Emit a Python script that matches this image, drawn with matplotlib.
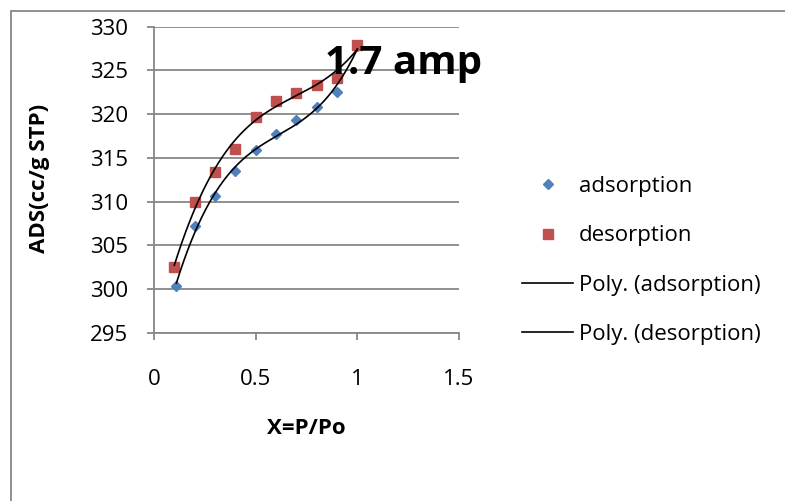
import numpy as np
import matplotlib
import matplotlib.pyplot as plt
from matplotlib.patches import Rectangle

matplotlib.use("Agg")

# Data
ADS_X = [0.11, 0.2, 0.3, 0.4, 0.5, 0.6, 0.7, 0.8, 0.9, 1.0]
ADS_Y = [300.4, 307.2, 310.7, 313.5, 315.9, 317.7, 319.3, 320.8, 322.5, 327.8]
DES_X = [0.1, 0.2, 0.3, 0.4, 0.5, 0.6, 0.7, 0.8, 0.9, 1.0]
DES_Y = [302.5, 310.0, 313.4, 316.0, 319.7, 321.5, 322.4, 323.3, 324.1, 327.9]
X_TICKS = [0, 0.5, 1, 1.5]
Y_TICKS = [295, 300, 305, 310, 315, 320, 325, 330]
POLY_ORDER = 3

# Styling (Excel 2007 look)
BLUE = "#4F81BD"
RED = "#C0504D"
GRID = "#878787"
FONT = "Open Sans"

plt.rcParams["font.family"] = [FONT, "DejaVu Sans"]

fig = plt.figure(figsize=(7.85, 5.01), dpi=100)
ax = fig.add_axes([154 / 785, 1 - 333 / 501, 305 / 785, 306.5 / 501])

# outer chart frame (only top/left edges visible)
fig.patches.append(Rectangle((11 / 785, -0.5), 2.0, 1.5 - 10.5 / 501,
                             transform=fig.transFigure, fill=False,
                             edgecolor=GRID, linewidth=1.3))

ax.plot(ADS_X, ADS_Y, linestyle="none", marker="D", markersize=5.5,
        color=BLUE, label="adsorption", zorder=3)
ax.plot(DES_X, DES_Y, linestyle="none", marker="s", markersize=6.5,
        color=RED, label="desorption", zorder=4)

# polynomial trend lines
for xs, ys, name in [(ADS_X, ADS_Y, "adsorption"), (DES_X, DES_Y, "desorption")]:
    coef = np.polyfit(xs, ys, POLY_ORDER)
    xx = np.linspace(min(xs), max(xs), 200)
    ax.plot(xx, np.polyval(coef, xx), color="black", linewidth=1.2,
            label=f"Poly. ({name})", zorder=5)

ax.set_xlim(0, 1.5)
ax.set_ylim(295, 330)
ax.set_xticks(X_TICKS)
ax.set_xticklabels([f"{t:g}" for t in X_TICKS])
ax.set_yticks(Y_TICKS)
ax.yaxis.grid(True, color=GRID, linewidth=1.3)
ax.set_axisbelow(True)
for s in ["top", "right"]:
    ax.spines[s].set_visible(False)
for s in ["left", "bottom"]:
    ax.spines[s].set_color(GRID)
    ax.spines[s].set_linewidth(1.3)
ax.tick_params(axis="y", direction="out", length=5, width=1.3, color=GRID,
               labelsize=16, pad=13.5)
ax.tick_params(axis="x", direction="out", length=5, width=1.3, color=GRID,
               labelsize=16, pad=21)

fig.text(40 / 785, 1 - 178 / 501, "ADS(cc/g STP)", rotation=90,
         fontsize=16, fontweight="bold", ha="center", va="center")
fig.text(306 / 785, 1 - 428 / 501, "X=P/Po",
         fontsize=16, fontweight="bold", ha="center", va="center")
fig.text(325 / 785, 1 - 74 / 501, "1.7 amp", fontsize=29,
         fontweight="bold", ha="left", va="baseline", zorder=10)

ax.legend(loc="center left", bbox_to_anchor=(522 / 785, 1 - 260.5 / 501),
          bbox_transform=fig.transFigure, frameon=False, fontsize=16,
          handlelength=2.3, handletextpad=0.25, labelspacing=1.28,
          borderpad=0, borderaxespad=0)

fig.savefig("out.png", dpi=100, facecolor="white")
